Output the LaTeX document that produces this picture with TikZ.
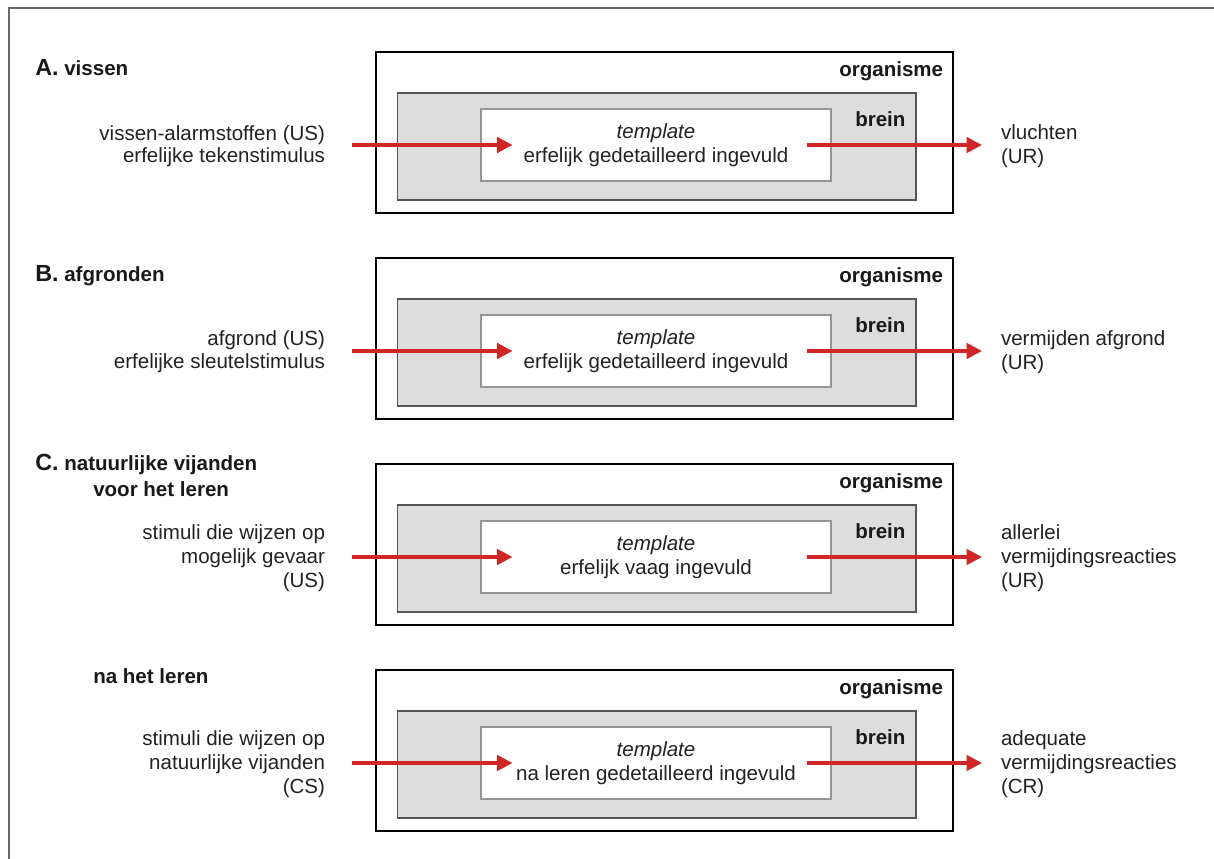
\documentclass[tikz,border=0pt]{standalone}
\usepackage{fontspec}
\setmainfont{Liberation Sans}
\usetikzlibrary{arrows.meta}

\definecolor{arrowred}{RGB}{208,38,38}
\definecolor{brainfill}{RGB}{221,221,221}
\definecolor{brainline}{RGB}{85,85,85}
\definecolor{tplline}{RGB}{150,150,150}
\definecolor{frameline}{RGB}{105,105,105}
\definecolor{inktext}{RGB}{34,34,34}

\newcommand\bodysize{\fontsize{15.4pt}{17.8pt}\selectfont}
\newcommand\bigletter{\fontsize{17.5pt}{20pt}\selectfont}

% one panel: #1 suffix, #2 top edge of the organism box, #3 template line,
% #4 stimulus text, #5 response text
\newcommand\drawpanel[5]{%
  \node[organismbox] (org#1) at (664.5,{#2+80.5}) {};
  \node[brainbox] (br#1) at (656.75,{#2+94.5}) {};
  \node[templatebox, align=center] (tm#1) at (656,{#2+93}) {\textit{template}\\#3};
  \node[boxlabel, anchor=east] (ol#1) at ([xshift=-8.25pt,yshift=-15.75pt]org#1.north east) {organisme};
  \node[boxlabel, anchor=east] (bl#1) at ([xshift=-8.25pt,yshift=-20.25pt]br#1.north east) {brein};
  \node[sidelabel, align=right, anchor=east, outer xsep=20.25pt] (in#1) at (352,{#2+94}) {#4};
  \node[sidelabel, align=left, anchor=west, outer xsep=14.25pt] (out#1) at (982,{#2+94}) {#5};
  \draw[flow] (in#1.east |- tm#1.west) -- ([xshift=24pt]tm#1.west);
  \draw[flow] ([xshift=-18.75pt]tm#1.east) -- (tm#1.east -| out#1.west);
}

\begin{document}
\begin{tikzpicture}[x=0.75pt,y=-0.75pt,
  organismbox/.style={draw=black, line width=2.1pt, fill=white,
    minimum width=432.75pt, minimum height=120.75pt, inner sep=0pt},
  brainbox/.style={draw=brainline, line width=1.1pt, fill=brainfill,
    minimum width=388.9pt, minimum height=80.25pt, inner sep=0pt},
  templatebox/.style={draw=tplline, line width=0.8pt, fill=white,
    minimum width=262.5pt, minimum height=54pt, inner sep=0pt,
    text=inktext, font=\fontsize{15.4pt}{18pt}\selectfont},
  boxlabel/.style={inner sep=0pt, font=\bodysize\bfseries, text=black!90},
  sidelabel/.style={inner sep=0pt, font=\bodysize, text=inktext},
  heading/.style={inner sep=0pt, font=\bodysize\bfseries, text=black!90},
  flow/.style={draw=arrowred, line width=2.4pt,
    -{Triangle[length=11.5pt, width=11.5pt]}},
]
\useasboundingbox (0,0) rectangle (1214,859);
\fill[white] (0,0) rectangle (1214,859);

% surrounding frame (only its top and left sides fall inside the page)
\draw[frameline, line width=1.9pt] (9,862) -- (9,8) -- (1217,8);

% section headings
\node[heading, anchor=base west] (hA) at (35,76) {{\bigletter A.} vissen};
\node[heading, anchor=base west] (hB) at (35,282) {{\bigletter B.} afgronden};
\node[heading, anchor=base west] (hC) at (35,470) {{\bigletter C.} natuurlijke vijanden};
\node[heading, anchor=base west] (hC1) at (93,496) {voor het leren};
\node[heading, anchor=base west] (hC2) at (93,683) {na het leren};

\drawpanel{A}{52}{erfelijk gedetailleerd ingevuld}
  {vissen-alarmstoffen (US)\\[-1.5pt]erfelijke tekenstimulus}
  {vluchten\\(UR)}
\drawpanel{B}{258}{erfelijk gedetailleerd ingevuld}
  {afgrond (US)\\[-0.5pt]erfelijke sleutelstimulus}
  {vermijden afgrond\\(UR)}
\drawpanel{C}{464}{erfelijk vaag ingevuld}
  {stimuli die wijzen op\\mogelijk gevaar\\(US)}
  {allerlei\\vermijdingsreacties\\(UR)}
\drawpanel{D}{670}{na leren gedetailleerd ingevuld}
  {stimuli die wijzen op\\natuurlijke vijanden\\(CS)}
  {adequate\\vermijdingsreacties\\(CR)}
\end{tikzpicture}
\end{document}
